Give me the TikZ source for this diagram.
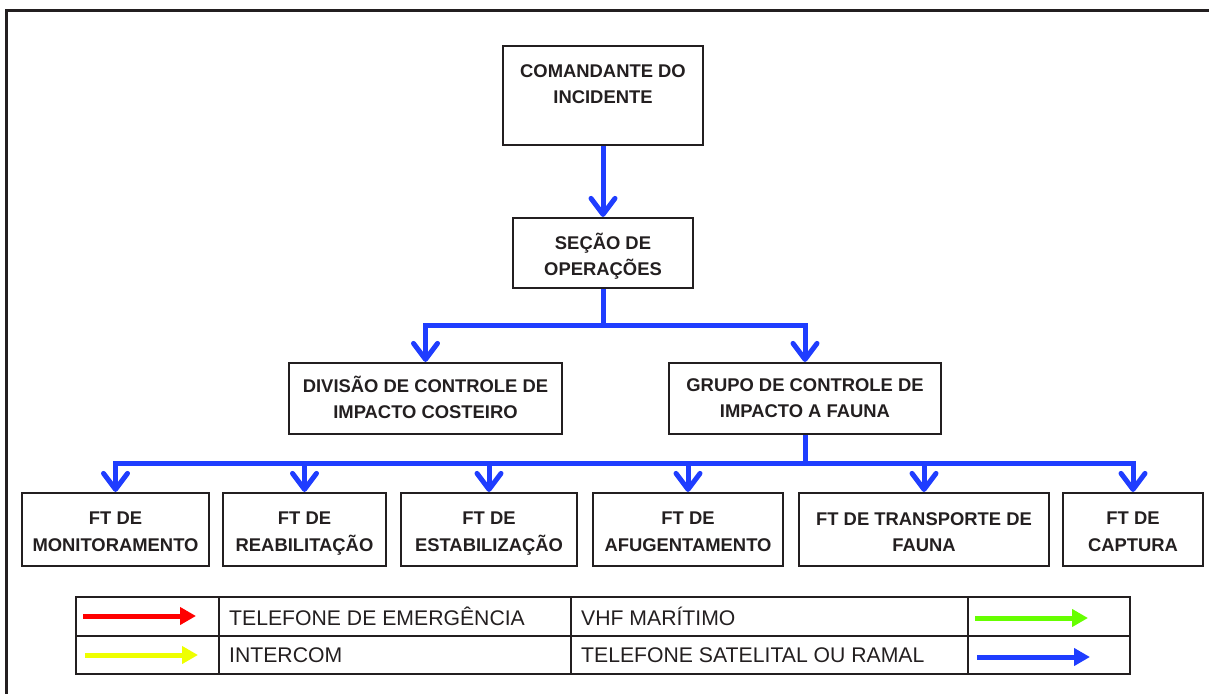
\documentclass[tikz,border=0pt]{standalone}
\usepackage{fontspec}
\setmainfont{Liberation Sans}
\usetikzlibrary{arrows.meta}
\definecolor{flowblue}{RGB}{31,61,255}
\definecolor{ink}{RGB}{35,31,32}
\definecolor{legred}{RGB}{255,0,0}
\definecolor{legyellow}{RGB}{238,255,0}
\definecolor{leggreen}{RGB}{102,255,0}
\begin{document}
\begin{tikzpicture}[x=1pt,y=-1pt,
  box/.style={draw=ink, line width=2.2pt, inner sep=0pt},
  txt/.style={inner sep=0pt, align=center, font=\bfseries\fontsize{18.4}{26}\selectfont, text=ink,
    execute at begin node=\strut, execute at end node=\strut},
  fttxt/.style={txt, font=\bfseries\fontsize{18.4}{26.8}\selectfont},
  flow/.style={draw=flowblue, line width=5pt},
  flowarrow/.style={flow, -{Straight Barb[length=16pt,width=24pt,round]}},
  legtext/.style={anchor=west, inner sep=0pt, font=\fontsize{21.2}{25}\selectfont, text=ink},
  legarrow/.style={line width=5pt, -{Triangle[length=16pt,width=17pt]}},
  tableline/.style={draw=ink, line width=2.5pt}]
\useasboundingbox (0,0) rectangle (1209,693);
% outer frame (only top and left visible)
\draw[draw=ink, line width=3pt] (6.5,700) -- (6.5,10.5) -- (1215,10.5);

% boxes
\node[box, minimum width=200pt, minimum height=99pt] (com) at (603,95.5) {};
\node[box, minimum width=180pt, minimum height=70pt] (sec) at (603,253) {};
\node[box, minimum width=273pt, minimum height=71pt] (div) at (425.5,398.5) {};
\node[box, minimum width=272pt, minimum height=71pt] (gru) at (805,398.5) {};
\node[box, minimum width=187pt, minimum height=73pt] (ft1) at (115.5,529.5) {};
\node[box, minimum width=163pt, minimum height=73pt] (ft2) at (304.5,529.5) {};
\node[box, minimum width=176pt, minimum height=73pt] (ft3) at (489,529.5) {};
\node[box, minimum width=190pt, minimum height=73pt] (ft4) at (688,529.5) {};
\node[box, minimum width=250pt, minimum height=73pt] (ft5) at (924,529.5) {};
\node[box, minimum width=140pt, minimum height=73pt] (ft6) at (1133,529.5) {};

% texts
\node[txt] (comt) at (603,88) {COMANDANTE DO\\INCIDENTE};
\node[txt] (sect) at (603,258.5) {SEÇÃO DE\\OPERAÇÕES};
\node[txt] (divt) at (425.5,401.5) {DIVISÃO DE CONTROLE DE\\IMPACTO COSTEIRO};
\node[txt] (grut) at (805,401.5) {GRUPO DE CONTROLE DE\\IMPACTO A FAUNA};
\node[fttxt] (ft1t) at (115.5,536) {FT DE\\MONITORAMENTO};
\node[fttxt] (ft2t) at (304.5,536) {FT DE\\REABILITAÇÃO};
\node[fttxt] (ft3t) at (489,536) {FT DE\\ESTABILIZAÇÃO};
\node[fttxt] (ft4t) at (688,536) {FT DE\\AFUGENTAMENTO};
\node[fttxt] (ft5t) at (924,536) {FT DE TRANSPORTE DE\\FAUNA};
\node[fttxt] (ft6t) at (1133,536) {FT DE\\CAPTURA};

% connectors
\draw[flowarrow] (com.south) -- (sec.north);
\coordinate (j1) at (603,325.5);
\draw[flow] (sec.south) -- (j1);
\draw[flowarrow] (j1) -| (div.north);
\draw[flowarrow] (j1) -| (gru.north);
\coordinate (j2) at (805,463);
\draw[flow] (gru.south) -- (j2);
\foreach \f in {ft1,ft2,ft3,ft4,ft5,ft6}{
  \draw[flowarrow] (j2) -| (\f.north);
}

% legend table
\draw[tableline] (76,597) rectangle (1130,674);
\draw[tableline] (76,636) -- (1130,636);
\draw[tableline] (219,597) -- (219,674);
\draw[tableline] (571,597) -- (571,674);
\draw[tableline] (968,597) -- (968,674);

\node[legtext] (l1) at (229,616) {TELEFONE DE EMERGÊNCIA};
\node[legtext] (l2) at (229,655) {INTERCOM};
\node[legtext] (l3) at (581,616) {VHF MARÍTIMO};
\node[legtext] (l4) at (581,655) {TELEFONE SATELITAL OU RAMAL};

\coordinate (ra) at (83,616);   \coordinate (rb) at (196,616);
\coordinate (ya) at (85,655);   \coordinate (yb) at (198,655);
\coordinate (ga) at (975,618);  \coordinate (gb) at (1088,618);
\coordinate (ba) at (977,657);  \coordinate (bb) at (1090,657);
\draw[legarrow, draw=legred, fill=legred] (ra) -- (rb);
\draw[legarrow, draw=legyellow, fill=legyellow] (ya) -- (yb);
\draw[legarrow, draw=leggreen, fill=leggreen] (ga) -- (gb);
\draw[legarrow, draw=flowblue, fill=flowblue] (ba) -- (bb);
\end{tikzpicture}
\end{document}
